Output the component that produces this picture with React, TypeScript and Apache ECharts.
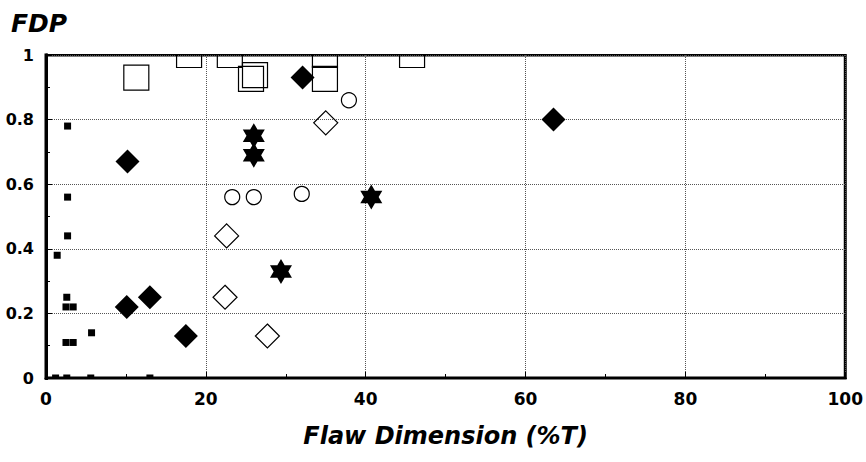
import React, { useEffect, useRef } from "react";
import * as echarts from "echarts";

const smallSquares: number[][] = [
  [2.7, 0.78], [2.7, 0.56], [2.7, 0.44], [1.4, 0.38], [2.6, 0.25],
  [2.5, 0.22], [3.4, 0.22], [2.5, 0.11], [3.4, 0.11], [5.7, 0.14],
  [1.2, 0], [2.6, 0], [5.6, 0], [13.0, 0],
];
const filledDiamonds: number[][] = [
  [10.2, 0.67], [10.1, 0.22], [13.0, 0.25], [17.5, 0.13], [32.1, 0.93], [63.5, 0.8],
];
const openDiamonds: number[][] = [
  [22.6, 0.44], [22.4, 0.25], [27.7, 0.13], [35.0, 0.79],
];
const openCircles: number[][] = [
  [23.3, 0.56], [26.0, 0.56], [32.0, 0.57], [37.9, 0.86],
];
const stars: number[][] = [
  [26.0, 0.75], [26.0, 0.69], [29.4, 0.33], [40.7, 0.56],
];
const openSquares: number[][] = [
  [11.3, 0.93], [17.9, 1.0], [23.0, 1.0], [25.65, 0.926], [26.15, 0.938],
  [34.9, 1.0], [34.9, 0.926], [45.8, 1.0],
];

const xTicks = { min: 0, max: 100, interval: 20 };
const yTicks = { min: 0, max: 1, interval: 0.2 };

const FONT = "'DejaVu Sans', Verdana, sans-serif";
const STAR =
  "path://M50,0 L64.43,25 L93.3,25 L78.87,50 L93.3,75 L64.43,75 L50,100 L35.57,75 L6.7,75 L21.13,50 L6.7,25 L35.57,25 Z";

const GRID = { left: 46, right: 17, top: 55, bottom: 84 };
const W = 866;
const H = 462;

export default function App() {
  const ref = useRef<HTMLDivElement>(null);
  useEffect(() => {
    if (!ref.current) return;
    const chart = echarts.init(ref.current, undefined, { renderer: "svg" });
    const open = { color: "rgba(0,0,0,0)", borderColor: "#000", borderWidth: 1.2, opacity: 1 };
    const filled = { color: "#000", opacity: 1 };
    chart.setOption({
      animation: false,
      backgroundColor: "#fff",
      title: {
        text: "FDP",
        left: 6,
        top: 6,
        textStyle: { fontFamily: FONT, fontSize: 25, fontWeight: "bold", fontStyle: "italic", color: "#000" },
      },
      grid: {
        ...GRID,
        show: true,
        borderColor: "#000",
        borderWidth: 3,
        backgroundColor: "rgba(0,0,0,0)",
      },
      xAxis: {
        type: "value",
        ...xTicks,
        name: "Flaw Dimension (%T)",
        nameLocation: "middle",
        nameGap: 46,
        nameTextStyle: { fontFamily: FONT, fontSize: 24, fontWeight: "bold", fontStyle: "italic", color: "#000" },
        axisLine: { show: true, lineStyle: { color: "#000", width: 3 } },
        axisTick: { show: true, inside: true, length: 6, lineStyle: { color: "#000", width: 1 } },
        minorTick: { show: true, splitNumber: 2, length: 4, lineStyle: { color: "#000", width: 1 } },
        axisLabel: { fontFamily: FONT, fontSize: 17, fontWeight: "bold", color: "#000", margin: 12 },
        splitLine: { show: true, lineStyle: { color: "#555", type: "dotted", width: 1 } },
      },
      yAxis: {
        type: "value",
        ...yTicks,
        axisLine: { show: true, lineStyle: { color: "#000", width: 3 } },
        axisTick: { show: true, inside: true, length: 6, lineStyle: { color: "#000", width: 1 } },
        minorTick: { show: true, splitNumber: 2, length: 4, lineStyle: { color: "#000", width: 1 } },
        axisLabel: { fontFamily: FONT, fontSize: 16, fontWeight: "bold", color: "#000", margin: 12 },
        splitLine: { show: true, lineStyle: { color: "#555", type: "dotted", width: 1 } },
      },
      graphic: [
        {
          type: "rect",
          z: 100,
          shape: { x: GRID.left + 2, y: 36, width: W - GRID.left - GRID.right - 4, height: GRID.top - 37 },
          style: { fill: "#fff" },
        },
        {
          type: "rect",
          z: 100,
          shape: { x: GRID.left + 2, y: H - GRID.bottom + 1.5, width: W - GRID.left - GRID.right - 4, height: 4 },
          style: { fill: "#fff" },
        },
      ],
      series: [
        { type: "scatter", name: "open squares", data: openSquares, symbol: "rect", symbolSize: 25, itemStyle: open, z: 2 },
        { type: "scatter", name: "small squares", data: smallSquares, symbol: "rect", symbolSize: 7, itemStyle: filled, z: 3 },
        { type: "scatter", name: "filled diamonds", data: filledDiamonds, symbol: "diamond", symbolSize: 24, itemStyle: filled, z: 3 },
        { type: "scatter", name: "open diamonds", data: openDiamonds, symbol: "diamond", symbolSize: 24, itemStyle: open, z: 3 },
        { type: "scatter", name: "open circles", data: openCircles, symbol: "circle", symbolSize: 15, itemStyle: open, z: 3 },
        { type: "scatter", name: "stars", data: stars, symbol: STAR, symbolSize: [22, 25], itemStyle: filled, z: 3 },
      ],
    });
    return () => chart.dispose();
  }, []);
  return <div ref={ref} style={{ width: W, height: H, position: "absolute", left: 0, top: 0 }} />;
}
